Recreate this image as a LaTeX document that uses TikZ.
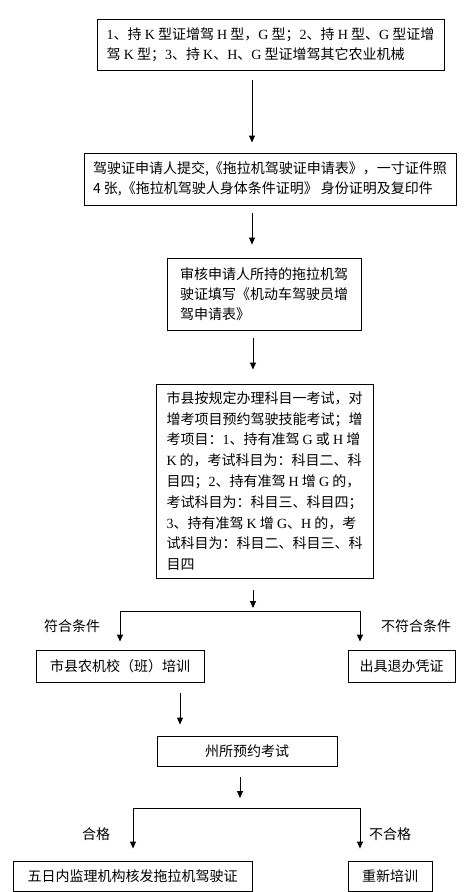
\documentclass[tikz,border=0pt]{standalone}
\usepackage{fontspec}
\setmainfont{Noto Sans CJK SC}
\newfontfamily\lat{Liberation Serif}
\usetikzlibrary{arrows.meta}
\newcommand\tm[1]{{\lat #1}}
\begin{document}
\begin{tikzpicture}[x=1pt,y=-1pt,
  box/.style={draw, line width=0.9pt, inner sep=0pt, align=left, font=\fontsize{14}{20}\selectfont},
  arr/.style={line width=0.9pt, -{Triangle[length=7pt,width=6pt]}},
  lbl/.style={font=\fontsize{14}{20}\selectfont, inner sep=0pt},
  ln/.style={line width=0.9pt}]
\useasboundingbox[fill=white] (0,0) rectangle (470,892);
% boxes
\node[box, minimum width=347pt, minimum height=51pt] (b1) at (270.5,44.5)
  {\tm{1}、持 \tm{K} 型证增驾 \tm{H} 型，\tm{G} 型；\tm{2}、持 \tm{H} 型、\tm{G} 型证增\\驾 \tm{K} 型；\tm{3}、持 \tm{K}、\tm{H}、\tm{G} 型证增驾其它农业机械};
\node[box, minimum width=372pt, minimum height=52pt] (b2) at (270,179)
  {驾驶证申请人提交,《拖拉机驾驶证申请表》，一寸证件照\\4 张,《拖拉机驾驶人身体条件证明》 身份证明及复印件};
\node[box, minimum width=194pt, minimum height=72pt] (b3) at (264,294)
  {审核申请人所持的拖拉机驾\\驶证填写《机动车驾驶员增\\驾申请表》};
\node[box, minimum width=217pt, minimum height=194pt, font=\fontsize{14}{20.8}\selectfont] (b4) at (264.5,481)
  {市县按规定办理科目一考试，对\\
   增考项目预约驾驶技能考试；增\\
   考项目：\tm{1}、持有准驾 \tm{G} 或 \tm{H} 增\\
   \tm{K} 的，考试科目为：科目二、科\\
   目四；\tm{2}、持有准驾 \tm{H} 增 \tm{G} 的，\\
   考试科目为：科目三、科目四；\\
   \tm{3}、持有准驾 \tm{K} 增 \tm{G}、\tm{H} 的，考\\
   试科目为：科目二、科目三、科\\
   目四};
\node[box, minimum width=168pt, minimum height=32pt] (b5) at (120,666) {市县农机校（班）培训};
\node[box, minimum width=107pt, minimum height=32pt] (b6) at (401.5,666) {出具退办凭证};
\node[box, minimum width=180pt, minimum height=30pt] (b7) at (247,751) {州所预约考试};
\node[box, minimum width=239pt, minimum height=30pt] (b8) at (132.5,876) {五日内监理机构核发拖拉机驾驶证};
\node[box, minimum width=84pt, minimum height=30pt] (b9) at (390,876) {重新培训};
% labels
\node[lbl] (l1) at (72,626) {符合条件};
\node[lbl] (l2) at (416,626) {不符合条件};
\node[lbl] (l3) at (96,834) {合格};
\node[lbl] (l4) at (390,834) {不合格};
% coordinates
\coordinate (xa) at (252,0);
\coordinate (xb) at (253,0);
\coordinate (xc) at (180,0);
\coordinate (j1) at (253,611);
\coordinate (j1l) at (120,611);
\coordinate (j1r) at (360,611);
\coordinate (j2) at (240,808);
\coordinate (j2l) at (133,808);
\coordinate (j2r) at (360,808);
% connectors
\draw[arr, shorten <=10pt, shorten >=10pt] (b1.south -| xa) -- (b2.north -| xa);
\draw[arr, shorten <=8pt, shorten >=13pt] (b2.south -| xa) -- (b3.north -| xa);
\draw[arr, shorten <=8pt, shorten >=14pt] (b3.south -| xb) -- (b4.north -| xb);
\draw[arr, shorten <=12pt, shorten >=3pt] (b4.south -| j1) -- (j1);
\draw[ln] (j1l) -- (j1r);
\draw[arr, shorten >=8pt] (j1l) -- (b5.north -| j1l);
\draw[arr, shorten >=8pt] (j1r) -- (b6.north -| j1r);
\draw[arr, shorten <=11pt, shorten >=11pt] (b5.south -| xc) -- (b7.north -| xc);
\draw[arr, shorten <=11pt, shorten >=10pt] (b7.south -| j2) -- (j2);
\draw[ln] (j2l) -- (j2r);
\draw[arr, shorten >=12pt] (j2l) -- (b8.north -| j2l);
\draw[arr, shorten >=12pt] (j2r) -- (b9.north -| j2r);
\end{tikzpicture}
\end{document}
